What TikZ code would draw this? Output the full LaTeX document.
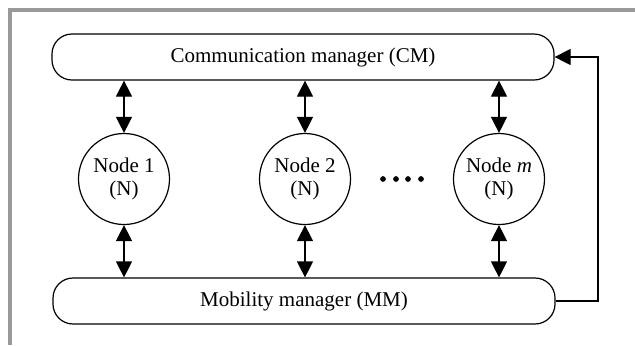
\documentclass[tikz,border=0pt]{standalone}
\usepackage{fontspec}
\setmainfont{Liberation Serif}
\usetikzlibrary{arrows.meta}

\tikzset{
  manager/.style={draw, line width=0.6pt, rounded corners=10pt, minimum width=251pt, minimum height=23pt, inner sep=0pt},
  agent/.style={draw, circle, line width=0.6pt, minimum size=45.5pt, inner sep=0pt, align=center},
  link/.style={{Triangle[length=8pt,width=8pt]}-{Triangle[length=8pt,width=8pt]}, line width=0.6pt},
}

\begin{document}
\begin{tikzpicture}[x=0.5pt,y=-0.5pt,font=\fontsize{10.5}{11.5}\selectfont]
  \useasboundingbox (0,0) rectangle (635,345);
  \draw[black!40,line width=2pt] (10,345) -- (10,10) -- (635,10);
  % managers
  \node[manager] (cm) at (303,57) {Communication manager (CM)};
  \node[manager] (mm) at (304,301) {Mobility manager (MM)};
  % nodes
  \node[agent] (n1) at (124,179) {Node 1\\(N)};
  \node[agent] (n2) at (305,179) {Node 2\\(N)};
  \node[agent] (nm) at (499,179) {Node \textit{m}\\(N)};
  \foreach \x in {383,396,408,421}
    \filldraw (\x,179) circle (1.2pt);
  % links
  \foreach \n in {n1,n2,nm} {
    \draw[link] (\n.north |- cm.south) -- (\n.north);
    \draw[link] (\n.south) -- (\n.south |- mm.north);
  }
  \coordinate (loop) at (598,301);
  \draw[-{Triangle[length=8pt,width=8pt]},line width=0.6pt] (mm.east) -- (loop) |- (cm.east);
\end{tikzpicture}
\end{document}
